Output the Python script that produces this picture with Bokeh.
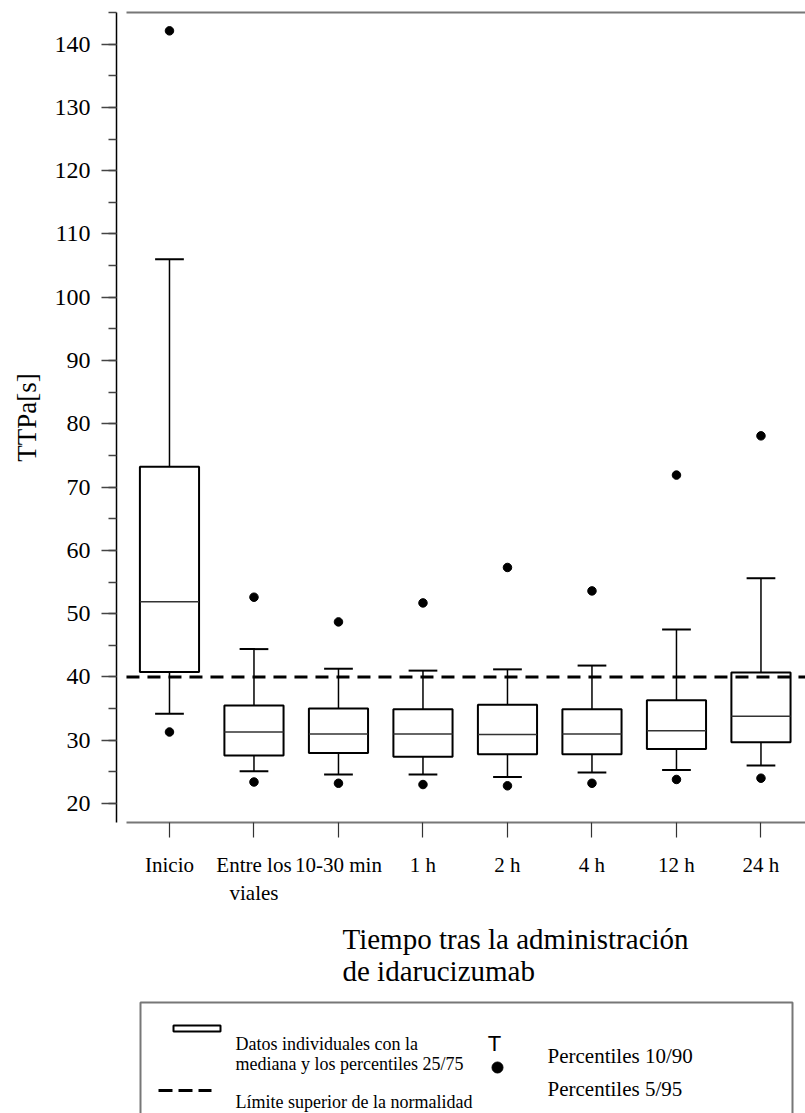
from bokeh.plotting import figure
from bokeh.models import Range1d, FixedTicker, SingleIntervalTicker, LinearAxis, ColumnDataSource
from bokeh.layouts import column
from bokeh.embed import file_html
from bokeh.resources import INLINE
from bokeh.core.properties import value

# ---------------- data ----------------
categories = ["Inicio", "Entre los\nviales", "10-30 min", "1 h", "2 h", "4 h", "12 h", "24 h"]
p5 = [31.3, 23.4, 23.2, 23.0, 22.8, 23.2, 23.8, 24.0]
p10 = [34.2, 25.1, 24.6, 24.6, 24.2, 24.9, 25.3, 26.0]
q1 = [40.8, 27.6, 28.0, 27.4, 27.8, 27.8, 28.6, 29.7]
median = [51.9, 31.3, 31.0, 31.0, 30.9, 31.0, 31.5, 33.8]
q3 = [73.2, 35.5, 35.0, 34.9, 35.6, 34.9, 36.3, 40.7]
p90 = [106.0, 44.4, 41.3, 41.0, 41.2, 41.8, 47.5, 55.6]
p95 = [142.1, 52.6, 48.7, 51.7, 57.3, 53.6, 71.9, 78.1]
upper_normal = 40.0

y_title = "TTPa[s]"
x_title = ["Tiempo tras la administración", "de idarucizumab"]
legend_left = ["Datos individuales con la", "mediana y los percentiles 25/75", "Límite superior de la normalidad"]
legend_right = ["Percentiles 10/90", "Percentiles 5/95"]

SERIF = "Liberation Serif"
W = 805
H1 = 913
H2 = 1113 - H1
LEFT = 116

xs = list(range(1, len(categories) + 1))
box_half = 0.35
cap_half = 0.17
X0, X1 = 0.373, 8.527
x_axis_start = 0.491

src = ColumnDataSource(dict(
    x=xs,
    left=[x - box_half for x in xs], right=[x + box_half for x in xs],
    cl=[x - cap_half for x in xs], cr=[x + cap_half for x in xs],
    p5=p5, p10=p10, q1=q1, med=median, q3=q3, p90=p90, p95=p95,
))

p = figure(width=W, height=H1, output_backend="svg", toolbar_location=None,
           x_range=Range1d(X0, X1), y_range=Range1d(17, 145),
           min_border_left=LEFT, min_border_right=0, min_border_top=12,
           min_border_bottom=H1 - 12 - 810)
p.grid.visible = False
p.outline_line_color = None
p.background_fill_color = "white"
p.border_fill_color = "white"

# y axis
ya = p.yaxis[0]
ya.ticker = SingleIntervalTicker(interval=10, num_minor_ticks=2)
ya.axis_line_color = "black"
ya.axis_line_width = 1.5
ya.major_tick_out = 15
ya.major_tick_in = 0
ya.minor_tick_out = 8
ya.minor_tick_in = 0
ya.major_tick_line_color = "#444"
ya.minor_tick_line_color = "#444"
ya.major_tick_line_width = 1.5
ya.minor_tick_line_width = 1.5
ya.major_label_text_font = SERIF
ya.major_label_text_font_size = "24px"
ya.major_label_text_color = "black"
ya.major_label_standoff = 11
ya.axis_label = y_title
ya.axis_label_text_font = SERIF
ya.axis_label_text_font_size = "27px"
ya.axis_label_text_font_style = "normal"
ya.axis_label_text_color = "black"
ya.axis_label_standoff = 10

# x axis
xa = p.xaxis[0]
xa.ticker = FixedTicker(ticks=xs)
xa.major_label_overrides = {x: c for x, c in zip(xs, categories)}
xa.bounds = (x_axis_start, X1)
xa.axis_line_color = "#777777"
xa.axis_line_width = 2
xa.major_tick_out = 15
xa.major_tick_in = 0
xa.major_tick_line_color = "#333"
xa.major_tick_line_width = 1.2
xa.minor_tick_line_color = None
xa.major_label_text_font = SERIF
xa.major_label_text_font_size = "21px"
xa.major_label_text_color = "black"
xa.major_label_standoff = 15

# top frame line
top = LinearAxis(ticker=FixedTicker(ticks=[]), bounds=(x_axis_start, X1),
                 axis_line_color="#777777", axis_line_width=2,
                 major_tick_out=0, major_tick_in=0, minor_tick_out=0, minor_tick_in=0,
                 major_label_standoff=0, axis_label_standoff=0)
p.add_layout(top, "above")

# whiskers
p.segment(x0="x", y0="q3", x1="x", y1="p90", source=src, line_color="black", line_width=1.5)
p.segment(x0="x", y0="q1", x1="x", y1="p10", source=src, line_color="black", line_width=1.5)
p.segment(x0="cl", y0="p90", x1="cr", y1="p90", source=src, line_color="black", line_width=2)
p.segment(x0="cl", y0="p10", x1="cr", y1="p10", source=src, line_color="black", line_width=2)
# boxes
p.quad(left="left", right="right", bottom="q1", top="q3", source=src,
       fill_color=None, line_color="black", line_width=2)
p.segment(x0="left", y0="med", x1="right", y1="med", source=src, line_color="#333", line_width=1.5)
# 5/95 points
p.scatter(x="x", y="p95", source=src, size=8.5, color="black")
p.scatter(x="x", y="p5", source=src, size=8.5, color="black")
# upper limit of normal
p.segment(x0=[x_axis_start], y0=[upper_normal], x1=[X1], y1=[upper_normal],
          line_color="black", line_width=3, line_dash="13 8")

# ---------------- title + legend panel (page pixel coordinates) ----------------
p2 = figure(width=W, height=H2, output_backend="svg", toolbar_location=None,
            x_range=Range1d(LEFT, W), y_range=Range1d(1113, H1),
            min_border_left=LEFT, min_border_right=0, min_border_top=0, min_border_bottom=0,
            x_axis_location=None, y_axis_location=None)
p2.grid.visible = False
p2.outline_line_color = None
p2.background_fill_color = "white"
p2.border_fill_color = "white"

p2.text(x=[342, 342], y=[938, 970], text=x_title, text_font=value(SERIF),
        text_font_size=value("29px"), text_color="black",
        text_align="left", text_baseline="alphabetic")

# legend frame
p2.quad(left=[140], right=[792], top=[1002], bottom=[1200], fill_color=None,
        line_color="#777777", line_width=2)
# box symbol
p2.quad(left=[173], right=[220], top=[1025], bottom=[1031], fill_color="white",
        line_color="black", line_width=2)
# dashed symbol
p2.segment(x0=[158], y0=[1090], x1=[211], y1=[1090], line_color="black", line_width=3, line_dash="14 6")
p2.text(x=[235, 235, 235], y=[1043, 1063, 1101], text=legend_left, text_font=value(SERIF),
        text_font_size=value("18px"), text_color="black", text_align="left", text_baseline="alphabetic")
# T symbol and dot
p2.text(x=[494], y=[1043], text=["T"], text_font=value("Liberation Sans"),
        text_font_size=value("22px"), text_color="black", text_align="center", text_baseline="alphabetic")
p2.scatter(x=[497], y=[1067], size=11, color="black")
p2.text(x=[547, 547], y=[1055, 1088], text=legend_right, text_font=value(SERIF),
        text_font_size=value("21px"), text_color="black", text_align="left", text_baseline="alphabetic")

layout = column(p, p2, spacing=0)
open("out.html", "w").write(file_html(layout, INLINE))
